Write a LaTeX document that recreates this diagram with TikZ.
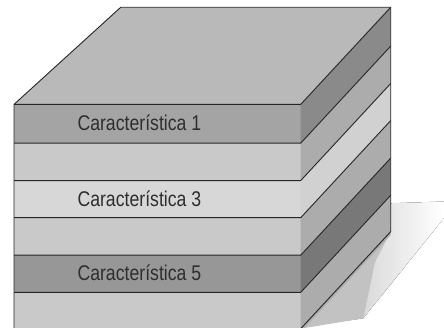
\documentclass[tikz,border=0pt]{standalone}
\usepackage{fontspec}
\setmainfont[FakeStretch=0.83]{Liberation Sans}
\begin{document}
\begin{tikzpicture}[x=1pt,y=-1pt,
  edge/.style={draw=black!85,line width=0.9pt,line join=round},
  lbl/.style={anchor=base west,inner sep=0pt,text=black!82,font=\fontsize{21.3}{21}\selectfont}]
\definecolor{ctop}{HTML}{B9B9B9}
\definecolor{fA}{HTML}{A4A4A4}\definecolor{rA}{HTML}{8A8A8A}
\definecolor{fB}{HTML}{C9C9C9}\definecolor{rB}{HTML}{ACACAC}
\definecolor{fC}{HTML}{D7D7D7}\definecolor{rC}{HTML}{D1D1D1}
\definecolor{fE}{HTML}{979797}\definecolor{rE}{HTML}{787878}
\useasboundingbox (0,0) rectangle (444,328);
\clip (0,0) rectangle (444,328);
% shadow
\fill[left color=black!26,right color=white,shading angle=90]
  (390.7,203.3) -- (444,201.5) -- (444,218) -- (363.3,318.3) -- (301,327) -- (300.7,328.7) -- cycle;
\fill[black!24] (390.7,231.7) -- (375,262) -- (363.3,318.3) -- (300.7,328.7) -- cycle;
% top face
\fill[ctop] (14,104.4) -- (120.7,7.3) -- (390.7,7.3) -- (300.7,104.4) -- cycle;
% bands: front and right
\foreach \ya/\yb/\cf/\cr in {104.4/143.2/fA/rA, 143.2/180.6/fB/rB, 180.6/217.7/fC/rC,
    217.7/255.2/fB/rB, 255.2/292.4/fE/rE, 292.4/332/fB/rB}{
  \fill[\cf] (14,\ya) rectangle (300.7,\yb);
  \fill[\cr] (300.7,\ya) -- (390.7,\ya-97.1) -- (390.7,\yb-97.1) -- (300.7,\yb) -- cycle;
}
% outlines
\draw[edge] (14,332) -- (14,104.4) -- (120.7,7.3) -- (390.7,7.3) -- (390.7,231.6) -- (300.7,328.7);
\draw[edge] (14,104.4) -- (300.7,104.4) -- (390.7,7.3);
\foreach \y in {143.2,180.6,217.7,255.2,292.4}{
  \draw[edge] (14,\y) -- (300.7,\y) -- (390.7,\y-97.1);
}
% labels
\node[lbl] (c1) at (77.3,131.0) {Característica 1};
\node[lbl] (c3) at (77.3,206.5) {Característica 3};
\node[lbl] (c5) at (77.3,281.0) {Característica 5};
\end{tikzpicture}
\end{document}
